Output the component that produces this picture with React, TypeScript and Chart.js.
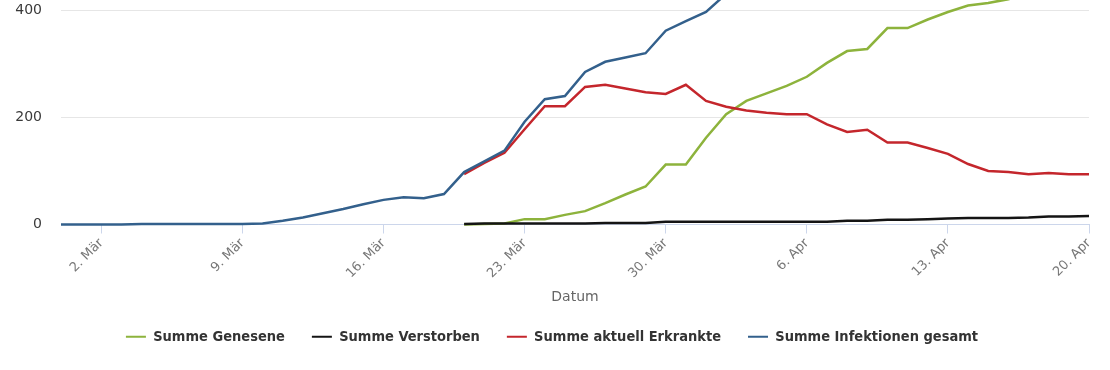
import { useEffect, useRef } from "react";
import { Chart, registerables } from "chart.js";

Chart.register(...registerables);

const dates = [
  "29. Feb",
  "1. Mär", "2. Mär", "3. Mär", "4. Mär", "5. Mär", "6. Mär", "7. Mär", "8. Mär", "9. Mär", "10. Mär",
  "11. Mär", "12. Mär", "13. Mär", "14. Mär", "15. Mär", "16. Mär", "17. Mär", "18. Mär", "19. Mär", "20. Mär",
  "21. Mär", "22. Mär", "23. Mär", "24. Mär", "25. Mär", "26. Mär", "27. Mär", "28. Mär", "29. Mär", "30. Mär", "31. Mär",
  "1. Apr", "2. Apr", "3. Apr", "4. Apr", "5. Apr", "6. Apr", "7. Apr", "8. Apr", "9. Apr", "10. Apr",
  "11. Apr", "12. Apr", "13. Apr", "14. Apr", "15. Apr", "16. Apr", "17. Apr", "18. Apr", "19. Apr", "20. Apr",
];

const tickDates = ["2. Mär", "9. Mär", "16. Mär", "23. Mär", "30. Mär", "6. Apr", "13. Apr", "20. Apr"];
const yTicks = [0, 200, 400];

const genesene = [
  null, null, null, null, null, null, null, null, null, null,
  null, null, null, null, null, null, null, null, null, null,
  0, 1, 2, 10, 10, 18, 25, 40, 56, 71,
  112, 112, 162, 206, 231, 245, 259, 276, 302, 324,
  328, 367, 367, 383, 397, 409, 414, 421, 430, 438,
  445, 450,
];

const verstorben = [
  null, null, null, null, null, null, null, null, null, null,
  null, null, null, null, null, null, null, null, null, null,
  1, 2, 2, 2, 2, 2, 2, 3, 3, 3,
  5, 5, 5, 5, 5, 5, 5, 5, 5, 7,
  7, 9, 9, 10, 11, 12, 12, 12, 13, 15,
  15, 16,
];

const erkrankte = [
  null, null, null, null, null, null, null, null, null, null,
  null, null, null, null, null, null, null, null, null, null,
  94, 115, 134, 178, 221, 221, 257, 261, 254, 247,
  244, 261, 231, 220, 213, 209, 206, 206, 187, 173,
  177, 153, 153, 143, 132, 113, 100, 98, 94, 96,
  94, 94,
];

const infektionen = [
  0, 0, 0, 0, 1, 1, 1, 1, 1, 1,
  2, 7, 13, 21, 29, 38, 46, 51, 49, 57,
  98, 118, 138, 192, 234, 240, 285, 304, 312, 320,
  362, 380, 397, 431, 449, 459, 470, 487, 494, 504,
  512, 529, 529, 536, 540, 545, 550, 556, 560, 565,
  570, 575,
];

const GREEN = "#8db33c";
const BLACK = "#141414";
const RED = "#c4262c";
const BLUE = "#33608c";

const FONT = '"DejaVu Sans", sans-serif';
const LEGEND_FONT = '"DejaVu Sans Condensed", "DejaVu Sans", sans-serif';

function mk(label: string, data: (number | null)[], color: string) {
  return {
    label,
    data,
    borderColor: color,
    backgroundColor: color,
    borderWidth: 2.5,
    pointRadius: 0,
    pointHoverRadius: 0,
    tension: 0,
    clip: false as const,
    spanGaps: false,
  };
}

export default function App() {
  const ref = useRef<HTMLCanvasElement>(null);

  useEffect(() => {
    document.body.style.margin = "0";
    const chart = new Chart(ref.current!, {
      type: "line",
      data: {
        labels: dates,
        datasets: [
          mk("Summe Infektionen gesamt", infektionen, BLUE),
          mk("Summe aktuell Erkrankte", erkrankte, RED),
          mk("Summe Verstorben", verstorben, BLACK),
          mk("Summe Genesene", genesene, GREEN),
        ],
      },
      options: {
        animation: false,
        responsive: false,
        layout: { padding: { top: 0, right: 21, bottom: 16, left: 15 } },
        plugins: {
          tooltip: { enabled: false },
          legend: {
            position: "bottom",
            reverse: true,
            labels: {
              boxWidth: 20,
              boxHeight: 2,
              padding: 27,
              color: "#333333",
              font: { family: LEGEND_FONT, size: 14.5, weight: "bold" },
              generateLabels: (c: any) =>
                Chart.defaults.plugins.legend.labels.generateLabels(c).map((it: any) => ({
                  ...it,
                  lineWidth: 0,
                  fillStyle: it.strokeStyle,
                })),
            },
          },
        },
        scales: {
          x: {
            type: "category",
            offset: false,
            afterBuildTicks: (s: any) => {
              s.ticks = tickDates.map((d) => ({ value: dates.indexOf(d) }));
            },
            afterFit: (s: any) => {
              s.height = 78;
            },
            ticks: {
              autoSkip: false,
              maxRotation: 45,
              minRotation: 45,
              padding: 2,
              color: "#777777",
              font: { family: FONT, size: 13 },
              callback: (v: any) => dates[v],
            },
            grid: {
              display: true,
              drawOnChartArea: false,
              drawTicks: true,
              tickLength: 9,
              color: "#ccd6eb",
            },
            border: { display: true, color: "#ccd6eb", width: 1 },
            title: {
              display: true,
              text: "Datum",
              color: "#666666",
              font: { family: FONT, size: 14 },
              padding: { top: 0, bottom: -3 },
            },
          },
          y: {
            min: 0,
            max: 400,
            afterBuildTicks: (s: any) => {
              s.ticks = yTicks.map((v) => ({ value: v }));
            },
            afterFit: (s: any) => {
              s.width = 46;
            },
            ticks: {
              padding: 2,
              color: "#3a3a3a",
              font: { family: FONT, size: 14 },
            },
            grid: { color: "#e6e6e6", drawTicks: true, tickLength: 17, tickColor: "rgba(0,0,0,0)" },
            border: { display: false },
          },
        },
      },
    });
    return () => chart.destroy();
  }, []);

  return (
    <div style={{ width: 1110, height: 370 }}>
      <canvas ref={ref} width={1110} height={370} style={{ display: "block" }} />
    </div>
  );
}
